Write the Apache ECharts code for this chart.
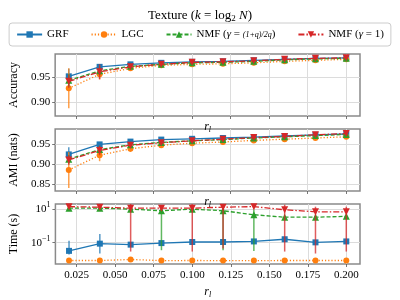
<!DOCTYPE html>
<html>
<head>
<meta charset="utf-8">
<script src="https://cdn.jsdelivr.net/npm/echarts@6/dist/echarts.min.js"></script>
<style>html,body{margin:0;padding:0;background:#fff}#c{width:400px;height:300px}</style>
</head>
<body>
<div id="c"></div>
<script>
const xs = [0.02, 0.04, 0.06, 0.08, 0.10, 0.12, 0.14, 0.16, 0.18, 0.20];
const xTicks = [0.025, 0.05, 0.075, 0.1, 0.125, 0.15, 0.175, 0.2];
const names = ['GRF', 'LGC', 'NMF q', 'NMF 1'];

// Accuracy
const accGRF  = [0.952, 0.971, 0.976, 0.979, 0.981, 0.982, 0.984, 0.986, 0.988, 0.989];
const accLGC  = [0.928, 0.956, 0.968, 0.974, 0.976, 0.977, 0.979, 0.982, 0.984, 0.986];
const accNMFq = [0.944, 0.963, 0.972, 0.976, 0.979, 0.980, 0.982, 0.985, 0.987, 0.988];
const accNMF1 = [0.942, 0.961, 0.971, 0.976, 0.980, 0.981, 0.983, 0.986, 0.988, 0.989];
const accGRFerr  = [0.015, 0.004, 0.003, 0.002, 0.002, 0.002, 0.002, 0.002, 0.002, 0.002];
const accLGCerr  = [0.040, 0.010, 0.005, 0.004, 0.004, 0.005, 0.005, 0.005, 0.003, 0.003];
const accNMFqErr = [0.012, 0.008, 0.004, 0.003, 0.002, 0.002, 0.002, 0.002, 0.002, 0.002];
const accNMF1Err = [0.013, 0.015, 0.004, 0.003, 0.003, 0.003, 0.002, 0.002, 0.002, 0.002];
const accTicks = [0.90, 0.95];

// AMI
const amiGRF  = [0.924, 0.949, 0.956, 0.961, 0.963, 0.965, 0.967, 0.970, 0.973, 0.975];
const amiLGC  = [0.885, 0.922, 0.938, 0.947, 0.952, 0.955, 0.959, 0.962, 0.965, 0.968];
const amiNMFq = [0.912, 0.936, 0.948, 0.954, 0.958, 0.961, 0.965, 0.968, 0.971, 0.974];
const amiNMF1 = [0.910, 0.934, 0.947, 0.953, 0.958, 0.962, 0.966, 0.969, 0.973, 0.976];
const amiGRFerr  = [0.018, 0.006, 0.004, 0.003, 0.003, 0.003, 0.003, 0.002, 0.002, 0.002];
const amiLGCerr  = [0.045, 0.015, 0.008, 0.006, 0.005, 0.006, 0.006, 0.005, 0.004, 0.004];
const amiNMFqErr = [0.010, 0.008, 0.005, 0.004, 0.003, 0.003, 0.003, 0.003, 0.002, 0.002];
const amiNMF1Err = [0.012, 0.012, 0.006, 0.004, 0.003, 0.003, 0.003, 0.003, 0.002, 0.002];
const amiTicks = [0.85, 0.90, 0.95];

// Time (s)
const timeGRF  = [0.033, 0.088, 0.077, 0.095, 0.11, 0.11, 0.119, 0.16, 0.105, 0.119];
const timeLGC  = [0.0089, 0.0089, 0.0102, 0.0088, 0.0089, 0.0088, 0.0088, 0.0089, 0.0089, 0.0089];
const timeNMFq = [11.0, 11.0, 9.6, 7.7, 9.6, 7.7, 4.5, 3.2, 3.2, 3.6];
const timeNMF1 = [13.5, 12.5, 10.9, 10.9, 10.9, 12.5, 13.5, 8.8, 6.7, 6.7];
const timeGRFlo  = [0.020, 0.023, 0.065, 0.080, 0.092, 0.092, 0.10, 0.13, 0.088, 0.10];
const timeGRFhi  = [0.130, 0.330, 0.090, 0.110, 0.128, 0.128, 0.14, 0.19, 0.122, 0.14];
const timeLGClo  = [0.0084, 0.0084, 0.0096, 0.0083, 0.0084, 0.0083, 0.0083, 0.0084, 0.0084, 0.0084];
const timeLGChi  = [0.0094, 0.0094, 0.0108, 0.0093, 0.0094, 0.0093, 0.0093, 0.0094, 0.0094, 0.0094];
const timeNMFqLo = [10.0, 10.0, 8.8, 0.036, 8.8, 0.036, 0.032, 2.8, 2.8, 3.1];
const timeNMFqHi = [12.0, 12.0, 10.4, 15.4, 10.4, 15.4, 9.0, 3.6, 3.6, 4.1];
const timeNMF1Lo = [12.0, 11.0, 0.030, 9.5, 0.030, 0.046, 12.0, 0.030, 0.023, 0.030];
const timeNMF1Hi = [15.0, 14.0, 21.8, 12.3, 21.8, 25.0, 15.0, 17.6, 13.4, 13.4];
const timeTicks = [0.1, 10];

const colors = ['#1f77b4', '#ff7f0e', '#2ca02c', '#d62728'];
const symbols = ['rect', 'circle', 'triangle', 'triangle'];
const rotates = [0, 0, 0, 180];
const symSizes = [6, 6, 7, 7];
const lineTypes = ['solid', [1.2, 2], [4, 2], [6, 2, 1.5, 2]];
const FONT = 'Liberation Serif';

const legendLabels = {
  'GRF': 'GRF',
  'LGC': 'LGC',
  'NMF q': '{t|NMF (}{i|γ}{t| = }{f|(1+q)/2q}{t|)}',
  'NMF 1': '{t|NMF (}{i|γ}{t| = 1)}'
};

const series = [];
function addPanel(gi, vals, los, his) {
  for (let s = 0; s < 4; s++) {
    const errData = xs.map((x, i) => [x, los[s][i], his[s][i]]);
    const col = colors[s];
    series.push({
      type: 'custom', name: names[s] + ' err' + gi, xAxisIndex: gi, yAxisIndex: gi,
      z: 2 + s * 2, silent: true,
      encode: { x: 0, y: [1, 2] },
      data: errData,
      renderItem: function (params, api) {
        const x = api.value(0);
        const p1 = api.coord([x, api.value(1)]);
        const p2 = api.coord([x, api.value(2)]);
        const cs = params.coordSys;
        const clamp = v => Math.max(cs.y, Math.min(cs.y + cs.height, v));
        return {
          type: 'line',
          shape: { x1: p1[0], y1: clamp(p1[1]), x2: p2[0], y2: clamp(p2[1]) },
          style: { stroke: col, lineWidth: 1.5, opacity: 0.75 }
        };
      }
    });
    series.push({
      type: 'line', name: names[s], xAxisIndex: gi, yAxisIndex: gi,
      z: 3 + s * 2,
      data: xs.map((x, i) => [x, vals[s][i]]),
      symbol: symbols[s], symbolRotate: rotates[s], symbolSize: symSizes[s],
      showAllSymbol: true,
      lineStyle: { color: col, width: 1.3, type: lineTypes[s] },
      itemStyle: { color: col, borderWidth: 0 },
      emphasis: { disabled: true },
      animation: false
    });
  }
}
function addErr(v, e) { return v.map((x, i) => x - e[i]); }
function addErrHi(v, e) { return v.map((x, i) => x + e[i]); }

addPanel(0, [accGRF, accLGC, accNMFq, accNMF1],
  [addErr(accGRF, accGRFerr), addErr(accLGC, accLGCerr), addErr(accNMFq, accNMFqErr), addErr(accNMF1, accNMF1Err)],
  [addErrHi(accGRF, accGRFerr), addErrHi(accLGC, accLGCerr), addErrHi(accNMFq, accNMFqErr), addErrHi(accNMF1, accNMF1Err)]);
addPanel(1, [amiGRF, amiLGC, amiNMFq, amiNMF1],
  [addErr(amiGRF, amiGRFerr), addErr(amiLGC, amiLGCerr), addErr(amiNMFq, amiNMFqErr), addErr(amiNMF1, amiNMF1Err)],
  [addErrHi(amiGRF, amiGRFerr), addErrHi(amiLGC, amiLGCerr), addErrHi(amiNMFq, amiNMFqErr), addErrHi(amiNMF1, amiNMF1Err)]);
addPanel(2, [timeGRF, timeLGC, timeNMFq, timeNMF1],
  [timeGRFlo, timeLGClo, timeNMFqLo, timeNMF1Lo],
  [timeGRFhi, timeLGChi, timeNMFqHi, timeNMF1Hi]);

const gridTops = [54, 129, 204];
const grids = gridTops.map(t => ({
  left: 50, top: t, width: 310, height: 62, show: true,
  borderColor: '#8a8a8a', borderWidth: 1.5, backgroundColor: 'transparent'
}));

const splitLine = { show: true, lineStyle: { color: '#dcdcdc', width: 1 } };
const tickStyle = { show: true, length: 3, lineStyle: { color: '#555', width: 0.8 }, customValues: xTicks };
const rSub = { i: { fontFamily: FONT, fontStyle: 'italic', fontSize: 12, color: '#000' },
               sub: { fontFamily: FONT, fontStyle: 'italic', fontSize: 8, color: '#000', padding: [6, 0, 0, 0] } };

const xAxes = [0, 1, 2].map(gi => ({
  type: 'value', gridIndex: gi, min: 0.01116, max: 0.2089,
  axisLine: { show: false },
  axisTick: tickStyle,
  splitLine: splitLine,
  axisLabel: gi === 2 ? {
    show: true, customValues: xTicks, fontFamily: FONT, fontSize: 11, color: '#000', margin: 6,
    formatter: v => v.toFixed(3)
  } : { show: false, customValues: xTicks },
  name: '{i|r}{sub|l}', nameLocation: 'middle', nameGap: gi === 2 ? 21 : 4,
  nameTextStyle: { rich: rSub }
}));

const yLabel = (fmt, cv) => ({ show: true, customValues: cv, fontFamily: FONT, fontSize: 11, color: '#000', margin: 5, formatter: fmt });
const yName = { fontFamily: FONT, fontSize: 12, color: '#000' };
const supRich = {
  a: { fontFamily: FONT, fontSize: 11, color: '#000' },
  s: { fontFamily: FONT, fontSize: 8, color: '#000', padding: [0, 0, 7, 0] }
};
const yAxes = [
  { type: 'value', gridIndex: 0, min: 0.8726, max: 0.9967,
    axisLine: { show: false }, axisTick: { show: true, length: 3, lineStyle: { color: '#555', width: 0.8 }, customValues: accTicks },
    splitLine: splitLine, axisLabel: yLabel(v => v.toFixed(2), accTicks),
    name: 'Accuracy', nameLocation: 'middle', nameGap: 29, nameRotate: 90, nameTextStyle: yName },
  { type: 'value', gridIndex: 1, min: 0.8325, max: 0.9875,
    axisLine: { show: false }, axisTick: { show: true, length: 3, lineStyle: { color: '#555', width: 0.8 }, customValues: amiTicks },
    splitLine: splitLine, axisLabel: yLabel(v => v.toFixed(2), amiTicks),
    name: 'AMI (nats)', nameLocation: 'middle', nameGap: 29, nameRotate: 90, nameTextStyle: yName },
  { type: 'log', gridIndex: 2, min: 0.00553, max: 19.3, logBase: 10,
    axisLine: { show: false }, axisTick: { show: true, length: 3, lineStyle: { color: '#555', width: 0.8 }, customValues: timeTicks },
    splitLine: splitLine,
    axisLabel: Object.assign(yLabel(v => {
      const e = Math.round(Math.log10(v));
      return '{a|10}{s|' + (e < 0 ? '\u2212' + (-e) : e) + '}';
    }, timeTicks), { rich: supRich }),
    name: 'Time (s)', nameLocation: 'middle', nameGap: 29, nameRotate: 90, nameTextStyle: yName }
];

const chart = echarts.init(document.getElementById('c'), null, { renderer: 'canvas' });
chart.setOption({
  animation: false,
  backgroundColor: '#fff',
  title: {
    text: '{n|Texture (}{i|k}{n| = log}{sub|2}{n| }{i|N}{n|)}',
    left: 'center', top: 3,
    textStyle: {
      fontWeight: 'normal',
      rich: {
        n: { fontFamily: FONT, fontSize: 13, fontWeight: 'normal', color: '#000' },
        i: { fontFamily: FONT, fontSize: 13, fontWeight: 'normal', fontStyle: 'italic', color: '#000' },
        sub: { fontFamily: FONT, fontSize: 9, fontWeight: 'normal', color: '#000', padding: [6, 0, 0, 0] }
      }
    }
  },
  legend: {
    data: names, left: 'center', top: 23,
    itemWidth: 25, itemHeight: 8, itemGap: 22,
    borderColor: '#cccccc', borderWidth: 1, borderRadius: 3, padding: [6, 7, 6, 7],
    formatter: n => legendLabels[n],
    textStyle: {
      fontFamily: FONT, fontSize: 11, color: '#000',
      rich: {
        t: { fontFamily: FONT, fontSize: 11, color: '#000' },
        i: { fontFamily: FONT, fontSize: 11, fontStyle: 'italic', color: '#000' },
        f: { fontFamily: FONT, fontSize: 8, fontStyle: 'italic', color: '#000' }
      }
    }
  },
  grid: grids,
  xAxis: xAxes,
  yAxis: yAxes,
  series: series
});
</script>
</body>
</html>
